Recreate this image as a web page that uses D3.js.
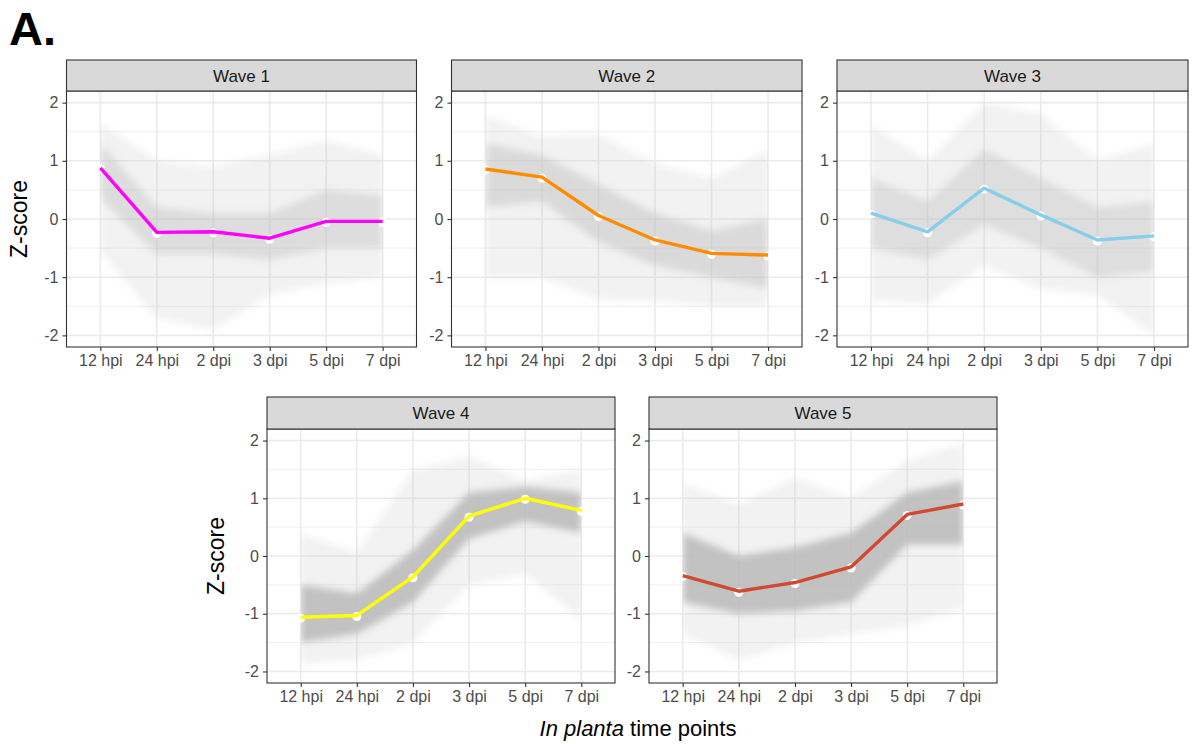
<!DOCTYPE html>
<html>
<head>
<meta charset="utf-8">
<script src="https://cdn.jsdelivr.net/npm/d3@7"></script>
<style>
  body { margin: 0; background: #fff; }
  svg { font-family: "Liberation Sans", Arial, sans-serif; }
</style>
</head>
<body>
<div id="chart"></div>
<script>
// time points on the x axis
var timePoints = ["12 hpi", "24 hpi", "2 dpi", "3 dpi", "5 dpi", "7 dpi"];
var waveNames = ["Wave 1", "Wave 2", "Wave 3", "Wave 4", "Wave 5"];
var yTicks = [-2, -1, 0, 1, 2];

// mean Z-score per wave (coloured line)
var wave1Mean = [0.88, -0.23, -0.22, -0.33, -0.04, -0.04];
var wave2Mean = [0.86, 0.72, 0.06, -0.36, -0.59, -0.62];
var wave3Mean = [0.10, -0.22, 0.53, 0.07, -0.36, -0.29];
var wave4Mean = [-1.06, -1.03, -0.36, 0.69, 1.00, 0.79];
var wave5Mean = [-0.34, -0.61, -0.46, -0.19, 0.72, 0.90];

// spread of the individual gene profiles (grey lines): full range
var wave1Low  = [-0.55, -1.70, -1.90, -1.30, -1.10, -1.00];
var wave1High = [1.65, 1.00, 0.90, 1.10, 1.35, 1.10];
var wave2Low  = [-1.00, -1.00, -1.38, -1.40, -1.50, -1.50];
var wave2High = [1.76, 1.42, 1.45, 0.95, 0.70, 1.19];
var wave3Low  = [-1.40, -1.45, -0.80, -1.20, -1.30, -2.00];
var wave3High = [1.62, 1.00, 1.99, 1.80, 1.00, 1.30];
var wave4Low  = [-1.86, -1.80, -1.50, -0.50, -0.30, -1.10];
var wave4High = [0.39, 0.05, 1.49, 1.72, 1.30, 1.50];
var wave5Low  = [-1.35, -1.80, -1.50, -1.35, -1.20, -0.90];
var wave5High = [1.25, 0.90, 1.35, 1.00, 1.65, 1.95];

// spread of the individual gene profiles: dense core
var wave1CoreLow  = [0.35, -0.60, -0.60, -0.70, -0.50, -0.50];
var wave1CoreHigh = [1.30, 0.20, 0.10, 0.10, 0.50, 0.40];
var wave2CoreLow  = [0.20, 0.30, -0.40, -0.80, -1.00, -1.20];
var wave2CoreHigh = [1.30, 1.10, 0.60, 0.10, -0.20, 0.00];
var wave3CoreLow  = [-0.50, -0.70, -0.10, -0.50, -1.00, -0.90];
var wave3CoreHigh = [0.70, 0.30, 1.20, 0.70, 0.20, 0.30];
var wave4CoreLow  = [-1.50, -1.35, -0.80, 0.30, 0.60, 0.40];
var wave4CoreHigh = [-0.50, -0.65, 0.10, 1.10, 1.20, 1.10];
var wave5CoreLow  = [-0.80, -1.00, -0.95, -0.80, 0.20, 0.20];
var wave5CoreHigh = [0.40, 0.00, 0.15, 0.40, 1.10, 1.30];

var waveColors = ["#FF00FF", "#FF8C00", "#87CEEB", "#FFFF00", "#D04A32"];

var waves = [
  { name: waveNames[0], mean: wave1Mean, low: wave1Low, high: wave1High, coreLow: wave1CoreLow, coreHigh: wave1CoreHigh },
  { name: waveNames[1], mean: wave2Mean, low: wave2Low, high: wave2High, coreLow: wave2CoreLow, coreHigh: wave2CoreHigh },
  { name: waveNames[2], mean: wave3Mean, low: wave3Low, high: wave3High, coreLow: wave3CoreLow, coreHigh: wave3CoreHigh },
  { name: waveNames[3], mean: wave4Mean, low: wave4Low, high: wave4High, coreLow: wave4CoreLow, coreHigh: wave4CoreHigh },
  { name: waveNames[4], mean: wave5Mean, low: wave5Low, high: wave5High, coreLow: wave5CoreLow, coreHigh: wave5CoreHigh }
];

// panel frames (layout only)
var frames = [
  { x0: 66.5, x1: 416.5, top: 60, stripH: 31, bottom: 347, ylab: 40, density: 0.4 },
  { x0: 451.5, x1: 802, top: 60, stripH: 31, bottom: 347, ylab: 0, density: 0.45 },
  { x0: 837, x1: 1188, top: 60, stripH: 31, bottom: 347, ylab: 0, density: 0.38 },
  { x0: 267, x1: 615, top: 397, stripH: 32, bottom: 683, ylab: 43, density: 0.9 },
  { x0: 649, x1: 997, top: 397, stripH: 32, bottom: 683, ylab: 0, density: 0.9 }
];

var width = 1196, height = 744;

var svg = d3.select("#chart").append("svg")
    .attr("width", width)
    .attr("height", height);

var defs = svg.append("defs");
defs.append("filter")
    .attr("id", "soft")
    .attr("x", "-10%").attr("y", "-20%")
    .attr("width", "120%").attr("height", "140%")
  .append("feGaussianBlur")
    .attr("stdDeviation", 3.5);

svg.append("text")
    .attr("x", 9)
    .attr("y", 45)
    .attr("font-size", 47)
    .attr("font-weight", "bold")
    .attr("fill", "#000")
    .text("A.");

waves.forEach(function (w, i) {
  var f = frames[i];
  var pTop = f.top + f.stripH;

  var x = d3.scalePoint()
      .domain(timePoints)
      .range([f.x0, f.x1])
      .padding(0.6);

  var y = d3.scaleLinear()
      .domain([-2.2, 2.2])
      .range([f.bottom, pTop]);

  defs.append("clipPath")
      .attr("id", "clip" + i)
    .append("rect")
      .attr("x", x(timePoints[0])).attr("y", pTop)
      .attr("width", x(timePoints[5]) - x(timePoints[0]))
      .attr("height", f.bottom - pTop);

  var g = svg.append("g");

  // minor grid
  g.selectAll(".minor")
    .data([-1.5, -0.5, 0.5, 1.5])
    .enter().append("line")
      .attr("x1", f.x0).attr("x2", f.x1)
      .attr("y1", function (d) { return y(d); })
      .attr("y2", function (d) { return y(d); })
      .attr("stroke", "#EBEBEB")
      .attr("stroke-width", 0.8);

  // major grid
  g.selectAll(".majorY")
    .data(yTicks)
    .enter().append("line")
      .attr("x1", f.x0).attr("x2", f.x1)
      .attr("y1", function (d) { return y(d); })
      .attr("y2", function (d) { return y(d); })
      .attr("stroke", "#EBEBEB")
      .attr("stroke-width", 1.6);

  g.selectAll(".majorX")
    .data(timePoints)
    .enter().append("line")
      .attr("x1", function (d) { return x(d); })
      .attr("x2", function (d) { return x(d); })
      .attr("y1", pTop).attr("y2", f.bottom)
      .attr("stroke", "#EBEBEB")
      .attr("stroke-width", 1.6);

  // grey gene profiles as soft bands
  var outer = d3.area()
      .x(function (d, j) { return x(timePoints[j]); })
      .y0(function (d, j) { return y(w.low[j]); })
      .y1(function (d, j) { return y(w.high[j]); });

  var core = d3.area()
      .x(function (d, j) { return x(timePoints[j]); })
      .y0(function (d, j) { return y(w.coreLow[j]); })
      .y1(function (d, j) { return y(w.coreHigh[j]); });

  var bands = g.append("g").attr("clip-path", "url(#clip" + i + ")")
    .append("g").attr("filter", "url(#soft)");

  bands.append("path")
      .attr("d", outer(timePoints))
      .attr("fill", "#BEBEBE")
      .attr("opacity", 0.2);

  bands.append("path")
      .attr("d", core(timePoints))
      .attr("fill", "#BEBEBE")
      .attr("opacity", f.density);

  // mean profile
  var line = d3.line()
      .x(function (d, j) { return x(timePoints[j]); })
      .y(function (d) { return y(d); });

  g.selectAll(".pt")
    .data(w.mean)
    .enter().append("circle")
      .attr("cx", function (d, j) { return x(timePoints[j]); })
      .attr("cy", function (d) { return y(d) + 1; })
      .attr("r", 4.5)
      .attr("fill", "#fff");

  g.append("path")
      .attr("d", line(w.mean))
      .attr("fill", "none")
      .attr("stroke", waveColors[i])
      .attr("stroke-width", 3.4)
      .attr("stroke-linejoin", "round");

  // border
  g.append("rect")
      .attr("x", f.x0).attr("y", pTop)
      .attr("width", f.x1 - f.x0).attr("height", f.bottom - pTop)
      .attr("fill", "none")
      .attr("stroke", "#333")
      .attr("stroke-width", 1.1);

  // strip
  g.append("rect")
      .attr("x", f.x0).attr("y", f.top)
      .attr("width", f.x1 - f.x0).attr("height", f.stripH)
      .attr("fill", "#D9D9D9")
      .attr("stroke", "#333")
      .attr("stroke-width", 1.1);

  g.append("text")
      .attr("x", (f.x0 + f.x1) / 2)
      .attr("y", f.top + f.stripH / 2 + 6)
      .attr("text-anchor", "middle")
      .attr("font-size", 17)
      .attr("fill", "#1A1A1A")
      .text(w.name);

  // axes
  var yAxis = d3.axisLeft(y).tickValues(yTicks).tickSize(4).tickPadding(4)
      .tickFormat(d3.format("d"));
  var ya = g.append("g")
      .attr("transform", "translate(" + f.x0 + ",0)")
      .call(yAxis);
  ya.select(".domain").remove();
  ya.selectAll("line").attr("stroke", "#333").attr("stroke-width", 1.1);
  ya.selectAll("text").attr("font-size", 16).attr("fill", "#4D4D4D")
      .attr("font-family", "Liberation Sans, Arial, sans-serif")
      .text(function (d) { return d < 0 ? "-" + Math.abs(d) : d; });

  var xAxis = d3.axisBottom(x).tickSize(4).tickPadding(4);
  var xa = g.append("g")
      .attr("transform", "translate(0," + f.bottom + ")")
      .call(xAxis);
  xa.select(".domain").remove();
  xa.selectAll("line").attr("stroke", "#333").attr("stroke-width", 1.1);
  xa.selectAll("text").attr("font-size", 16).attr("fill", "#4D4D4D")
      .attr("font-family", "Liberation Sans, Arial, sans-serif");

  if (f.ylab) {
    var cy = (pTop + f.bottom) / 2;
    var lx = f.x0 - f.ylab;
    svg.append("text")
        .attr("transform", "translate(" + lx + "," + cy + ") rotate(-90)")
        .attr("text-anchor", "middle")
        .attr("font-size", 23)
        .attr("fill", "#000")
        .text("Z-score");
  }
});

// x axis title
var xt = svg.append("text")
    .attr("x", 638)
    .attr("y", 736)
    .attr("text-anchor", "middle")
    .attr("font-size", 22)
    .attr("fill", "#000");
xt.append("tspan").attr("font-style", "italic").text("In planta");
xt.append("tspan").text(" time points");
</script>
</body>
</html>
